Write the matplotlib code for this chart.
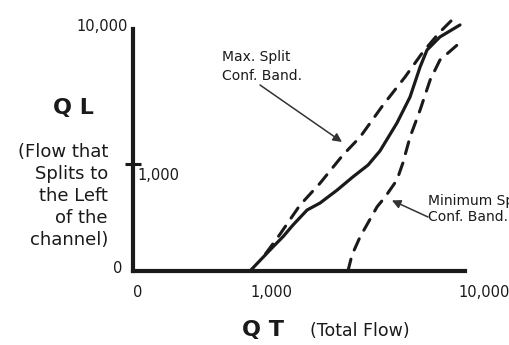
import matplotlib
matplotlib.use("Agg")
import matplotlib.pyplot as plt
import matplotlib.transforms as mtransforms
import numpy as np

####################################################################################
## data

# total flow QT and left split flow QL along each curve
qt_mid = [1000, 1960, 2380, 2800, 3390, 3930, 4640, 5310, 5940, 6440, 7150, 7700, 8120, 8410, 8950, 9790]
ql_mid = [0, 225, 320, 430, 570, 635, 755, 880, 990, 1870, 3730, 5470, 7470, 8600, 9470, 10270]

qt_max = [1650, 2260, 3090, 3930, 4890, 5610, 6570, 7490, 8240, 8950, 9580]
ql_max = [160, 345, 615, 820, 1600, 2800, 4930, 6800, 8470, 9800, 10800]

qt_min = [5100, 5270, 5610, 6320, 6650, 7150, 7400, 7700, 8120, 8540, 8950, 9670]
ql_min = [0, 150, 320, 600, 690, 850, 1070, 2800, 4600, 6600, 7930, 8930]

x_ticks = [0, 1000, 10000]
x_tick_labels = ["0", "1,000", "10,000"]
y_ticks = [0, 1000, 10000]
y_tick_labels = ["0", "1,000", "10,000"]

# arrow tips (QT, QL)
max_tip = (4850, 2470)
min_tip = (6940, 660)

ink = "#1a1a1a"

####################################################################################
## piecewise axis scale: 0-1000 and 1000-10000 get their own linear stretch

def make_scale(a):
    def fwd(v):
        v = np.asarray(v, dtype=float)
        return np.where(v <= 1000, v / 1000 * a, a + (v - 1000) / 9000 * (1 - a))

    def inv(u):
        u = np.asarray(u, dtype=float)
        return np.where(u <= a, u / a * 1000, 1000 + (u - a) / (1 - a) * 9000)

    return fwd, inv

####################################################################################
## plotting

W, H = 510, 345
fig = plt.figure(figsize=(W / 100, H / 100), dpi=100)
ax = fig.add_axes([133 / W, (H - 271) / H, 332 / W, 242 / H])

ax.set_xscale("function", functions=make_scale(117 / 332))
ax.set_yscale("function", functions=make_scale(107 / 242))
ax.set_xlim(0, 10000)
ax.set_ylim(0, 10000)

ax.plot(qt_mid, ql_mid, color=ink, lw=2.3, solid_capstyle="round", clip_on=False)
ax.plot(qt_max, ql_max, color=ink, lw=2.2, dashes=(4, 3.2), dash_capstyle="round", clip_on=False)
ax.plot(qt_min, ql_min, color=ink, lw=2.2, dashes=(4, 3.2), dash_capstyle="round", clip_on=False)

# axes look
for s in ["top", "right"]:
    ax.spines[s].set_visible(False)
for s in ["left", "bottom"]:
    ax.spines[s].set_linewidth(3.0)
    ax.spines[s].set_color(ink)
    ax.spines[s].set_capstyle("projecting")

ax.set_xticks(x_ticks)
ax.set_xticklabels(x_tick_labels, ha="left", fontsize=10.5, color=ink)
ax.tick_params(axis="x", length=0, pad=10)
# last label sits a little left of the axis end
last = ax.get_xticklabels()[-1]
last.set_transform(last.get_transform()
                   + mtransforms.ScaledTranslation(-0.07, 0, fig.dpi_scale_trans))

ax.set_yticks([])
ax.set_yticks([y_ticks[1]], minor=True)
ax.tick_params(axis="y", which="minor", direction="inout", length=11, width=2.2, color=ink)
ax.yaxis.set_minor_formatter(matplotlib.ticker.NullFormatter())

# y tick labels placed by hand (they sit on different sides)
ax.annotate(y_tick_labels[0], xy=(0, y_ticks[0]), xytext=(-8, 2), textcoords="offset points",
            ha="right", va="center", fontsize=10.5, color=ink)
ax.annotate(y_tick_labels[1], xy=(0, y_ticks[1]), xytext=(3.5, -8), textcoords="offset points",
            ha="left", va="center", fontsize=10.5, color=ink)
ax.annotate(y_tick_labels[2], xy=(0, y_ticks[2]), xytext=(-4, 2), textcoords="offset points",
            ha="right", va="center", fontsize=10.5, color=ink)

# callouts
ax.annotate("", xy=max_tip, xytext=(260, H - 85), textcoords="figure pixels",
            arrowprops=dict(arrowstyle="-|>", color="#333333", lw=1.1, mutation_scale=13,
                            shrinkA=0, shrinkB=0))
ax.annotate("", xy=min_tip, xytext=(428, H - 217), textcoords="figure pixels",
            arrowprops=dict(arrowstyle="-|>", color="#333333", lw=1.1, mutation_scale=13,
                            shrinkA=0, shrinkB=0))
fig.text(222 / W, 1 - 66.5 / H, "Max. Split\nConf. Band.", ha="left", va="center",
         fontsize=10, color=ink, linespacing=1.45)
fig.text(428 / W, 1 - 209 / H, "Minimum Split\nConf. Band.", ha="left", va="center",
         fontsize=10, color=ink, linespacing=1.25)

# axis titles
fig.text(73 / W, 1 - 108 / H, "Q L", ha="center", va="center", fontsize=16,
         fontweight="bold", color=ink)
fig.text(108 / W, 1 - 196 / H, "(Flow that\nSplits to\nthe Left\nof the\nchannel)",
         ha="right", va="center", fontsize=13, color=ink, linespacing=1.3)
fig.text(263 / W, 1 - 330 / H, "Q T", ha="center", va="center", fontsize=16,
         fontweight="bold", color=ink)
fig.text(310 / W, 1 - 331 / H, "(Total Flow)", ha="left", va="center", fontsize=12.5, color=ink)

fig.savefig("out.png", dpi=100)
